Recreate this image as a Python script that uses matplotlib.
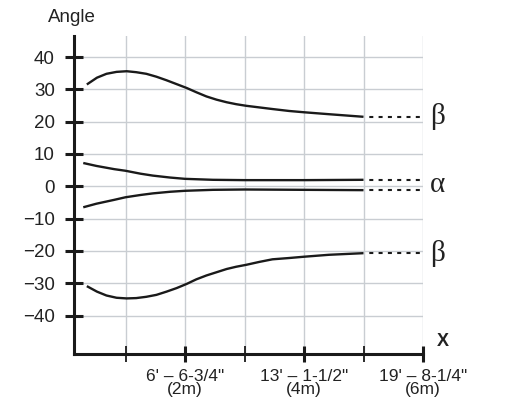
import matplotlib
matplotlib.use("Agg")
import matplotlib.pyplot as plt
from matplotlib.ticker import FixedLocator

plt.rcParams['font.family'] = ['Liberation Sans', 'DejaVu Sans']
plt.rcParams['lines.scale_dashes'] = False

# distance (m) and angle readings
x_beta = [0.35, 0.52, 0.68, 0.85, 1.02, 1.18, 1.35, 1.52, 1.69, 1.86, 2.03, 2.19,
          2.36, 2.53, 2.70, 2.86, 3.03, 3.25, 3.47, 3.75, 4.0, 4.42, 5.0]
beta_up = [31.5, 33.6, 34.8, 35.4, 35.6, 35.3, 34.8, 33.9, 32.8, 31.6, 30.4, 29.1,
           27.8, 26.8, 26.0, 25.4, 24.9, 24.4, 23.9, 23.3, 22.9, 22.3, 21.5]
beta_lo = [-30.9, -32.6, -33.8, -34.5, -34.7, -34.6, -34.2, -33.6, -32.6, -31.5, -30.2, -28.8,
           -27.6, -26.6, -25.6, -24.9, -24.3, -23.4, -22.6, -22.2, -21.8, -21.2, -20.7]

x_alpha = [0.29, 0.51, 0.81, 1.0, 1.25, 1.46, 1.75, 2.0, 2.47, 3.0, 4.0, 5.0]
alpha_up = [7.2, 6.3, 5.3, 4.8, 3.9, 3.3, 2.7, 2.3, 2.0, 1.9, 1.9, 2.0]
alpha_lo = [-6.5, -5.4, -4.2, -3.4, -2.7, -2.2, -1.7, -1.4, -1.1, -1.0, -1.1, -1.2]

y_ticks = [-40, -30, -20, -10, 0, 10, 20, 30, 40]
x_major = [2, 4, 6]
x_minor = [1, 3, 5]
x_labels = ["6' \u2013 6-3/4\"\n(2m)", "13' \u2013 1-1/2\"\n(4m)", "19' \u2013 8-1/4\"\n(6m)"]

fig = plt.figure(figsize=(5.05, 4.03), dpi=100)
ax = fig.add_axes([73.5/505, 1 - 354/403, (423 - 73.5)/505, (354 - 36)/403])
ax.set_xlim(0.126, 6.0)
ax.set_ylim(-51.9, 46.5)

grid_color = '#c9cdd2'
ax.xaxis.set_major_locator(FixedLocator(x_major))
ax.xaxis.set_minor_locator(FixedLocator(x_minor))
ax.yaxis.set_major_locator(FixedLocator(y_ticks))
ax.set_xticklabels(x_labels, fontsize=12.5, linespacing=0.85)
ax.set_yticklabels([str(v).replace('-', '\u2212') for v in y_ticks], fontsize=13.5)
ax.grid(True, which='both', axis='x', color=grid_color, lw=1.0)
ax.grid(True, which='major', axis='y', color=grid_color, lw=1.0)
ax.set_axisbelow(True)

for s in ['top', 'right']:
    ax.spines[s].set_visible(False)
for s in ['left', 'bottom']:
    ax.spines[s].set_linewidth(2.2)
    ax.spines[s].set_color('#1a1a1a')

ax.tick_params(axis='y', which='major', direction='inout', length=13, width=2.2, pad=7, colors='#1a1a1a', labelcolor='#222222')
ax.tick_params(axis='x', which='major', direction='inout', length=11.5, width=2.2, pad=5, colors='#1a1a1a', labelcolor='#222222')
ax.tick_params(axis='x', which='minor', direction='inout', length=11.5, width=1.3, colors='#1a1a1a')

line_kw = dict(color='#1a1a1a', lw=1.7, solid_capstyle='butt', solid_joinstyle='round')
for xs, ys in [(x_beta, beta_up), (x_beta, beta_lo), (x_alpha, alpha_up), (x_alpha, alpha_lo)]:
    ax.plot(xs, ys, **line_kw)
    ax.plot([xs[-1], ax.get_xlim()[1]], [ys[-1], ys[-1]], color='#1a1a1a', lw=1.5,
            linestyle=(2.9, (2.9, 3.8)), clip_on=False)

serif = ['Liberation Serif', 'DejaVu Serif']
for yv, g in [(beta_up[-1], '\u03b2'), (beta_lo[-1], '\u03b2'), ((alpha_up[-1] + alpha_lo[-1]) / 2, '\u03b1')]:
    ax.annotate(g, xy=(6.0, yv), xytext=(5, 0), textcoords='offset points',
                ha='left', va='center', fontsize=21, family=serif, color='#222222', annotation_clip=False)

fig.text(48/505, 1 - 18/403, 'Angle', ha='left', va='center', fontsize=13.5, color='#222222')
fig.text(443/505, 1 - 341/403, 'X', ha='center', va='center', fontsize=13, fontweight='bold', color='#222222')

fig.savefig('out.png', dpi=100)
